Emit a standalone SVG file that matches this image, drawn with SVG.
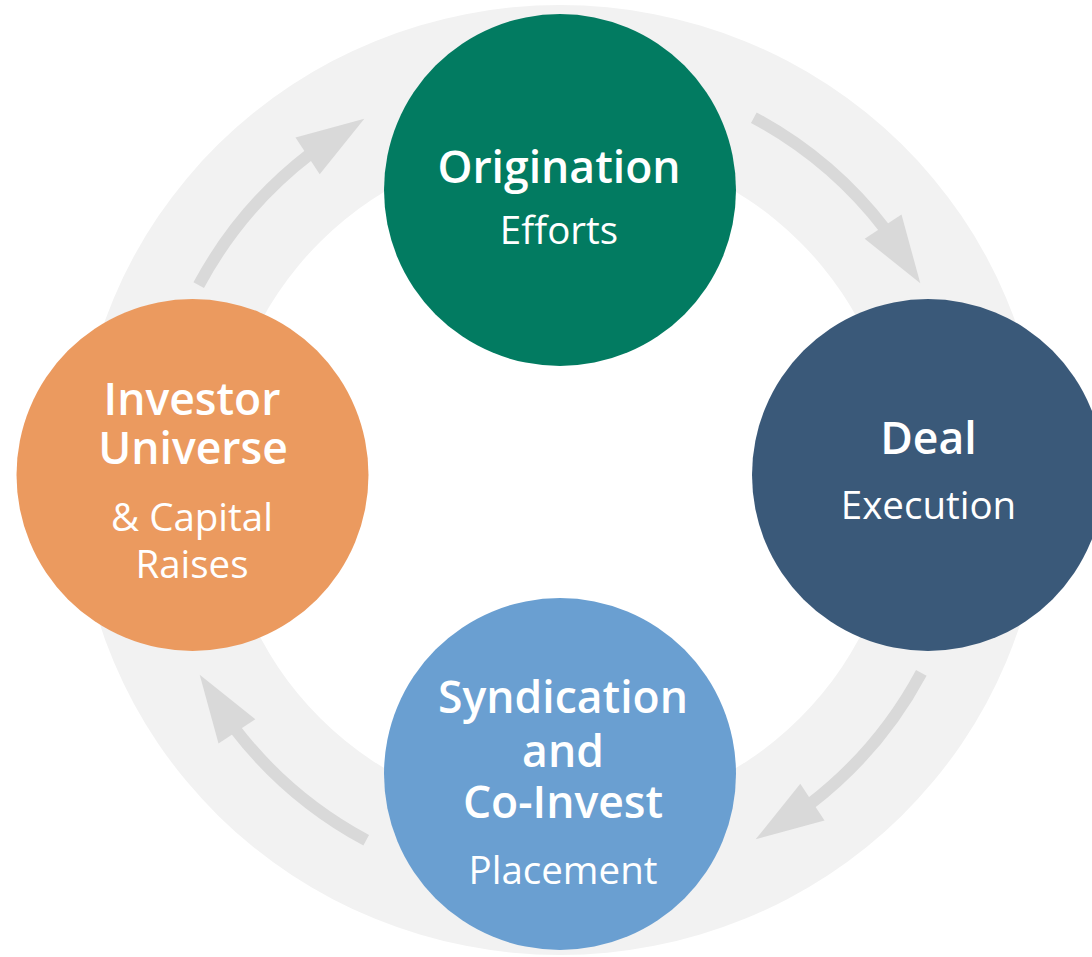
<svg xmlns="http://www.w3.org/2000/svg" width="1092" height="957" viewBox="0 0 1092 957">
  <defs>
    <style>
      .ring { fill: #F2F2F2; fill-rule: evenodd; }
      .arrow-line { fill: none; stroke: #D9D9D9; stroke-width: 12; }
      .arrow-head { fill: #D9D9D9; }
      .t { fill: #FFFFFF; font-family: "Open Sans", "Noto Sans", "DejaVu Sans", sans-serif; text-anchor: middle; }
      .b { font-weight: 600; font-size: 44.5px; }
      .r { font-weight: 400; font-size: 38.5px; }
    </style>
  </defs>
  <rect width="1092" height="957" fill="#FFFFFF"/>
  <path class="ring" d="M 77 480 A 483 475 0 1 0 1043 480 A 483 475 0 1 0 77 480 Z M 221 480 A 339 337 0 1 0 899 480 A 339 337 0 1 0 221 480 Z"/>
  <g id="connectors">
    <g id="arrow-deal-to-syndication">
      <path class="arrow-line" d="M 921.3 672.8 A 410 410 0 0 1 809.6 804.3"/>
      <polygon class="arrow-head" points="755.7,839.3 824.5,820.5 800.3,783.7"/>
    </g>
    <g id="arrow-syndication-to-investor" transform="rotate(90 560 479)">
      <path class="arrow-line" d="M 921.3 672.8 A 410 410 0 0 1 809.6 804.3"/>
      <polygon class="arrow-head" points="755.7,839.3 824.5,820.5 800.3,783.7"/>
    </g>
    <g id="arrow-investor-to-origination" transform="rotate(180 560 479)">
      <path class="arrow-line" d="M 921.3 672.8 A 410 410 0 0 1 809.6 804.3"/>
      <polygon class="arrow-head" points="755.7,839.3 824.5,820.5 800.3,783.7"/>
    </g>
    <g id="arrow-origination-to-deal" transform="rotate(270 560 479)">
      <path class="arrow-line" d="M 921.3 672.8 A 410 410 0 0 1 809.6 804.3"/>
      <polygon class="arrow-head" points="755.7,839.3 824.5,820.5 800.3,783.7"/>
    </g>
  </g>
  <g id="node-origination">
    <circle cx="560" cy="190" r="176" fill="#027B61"/>
    <text class="t b" x="559" y="183">Origination</text>
    <text class="t r" x="559" y="244">Efforts</text>
  </g>
  <g id="node-deal">
    <circle cx="928" cy="475" r="176" fill="#3A5979"/>
    <text class="t b" x="928.5" y="454">Deal</text>
    <text class="t r" x="928.5" y="519">Execution</text>
  </g>
  <g id="node-investor">
    <circle cx="192.5" cy="475" r="176" fill="#EB9A5F"/>
    <text class="t b" x="192" y="415">Investor</text>
    <text class="t b" x="193" y="464">Universe</text>
    <text class="t r" x="192" y="531">&amp; Capital</text>
    <text class="t r" x="192" y="578">Raises</text>
  </g>
  <g id="node-syndication">
    <circle cx="560" cy="774" r="176" fill="#6A9FD1"/>
    <text class="t b" x="563" y="713">Syndication</text>
    <text class="t b" x="563" y="767">and</text>
    <text class="t b" x="563" y="818">Co-Invest</text>
    <text class="t r" x="563" y="884">Placement</text>
  </g>
</svg>
